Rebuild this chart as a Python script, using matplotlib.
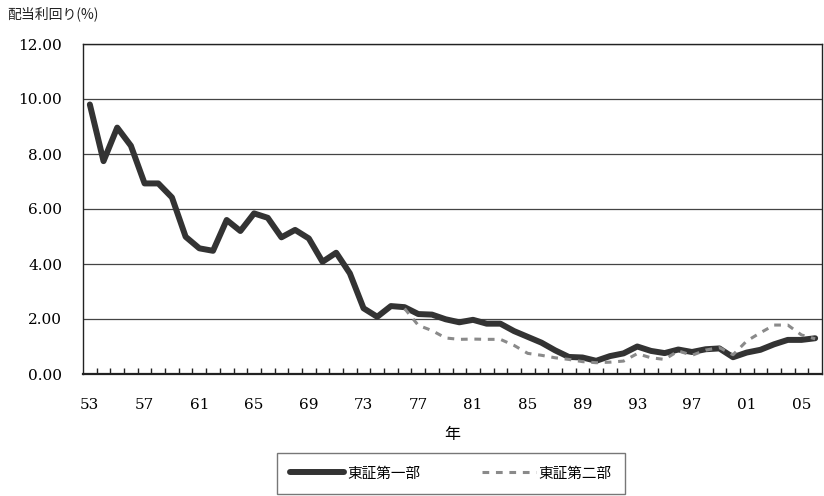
import numpy as np
import matplotlib
matplotlib.use("Agg")
import matplotlib.pyplot as plt
from matplotlib.ticker import FixedLocator, NullFormatter

# Dividend yield (%) by year, 1953-2006
years = list(range(1953, 2007))
tse1 = [9.80, 7.74, 8.96, 8.30, 6.93, 6.93, 6.42, 4.99, 4.57, 4.48,
        5.60, 5.20, 5.84, 5.68, 4.97, 5.24, 4.93, 4.08, 4.41, 3.66,
        2.39, 2.08, 2.47, 2.43, 2.18, 2.16, 1.99, 1.88, 1.97, 1.83,
        1.83, 1.56, 1.35, 1.14, 0.86, 0.62, 0.60, 0.48, 0.65, 0.75,
        1.00, 0.84, 0.76, 0.89, 0.80, 0.90, 0.93, 0.61, 0.78, 0.88,
        1.08, 1.24, 1.24, 1.30]
tse2_years = list(range(1976, 2007))
tse2 = [2.38, 1.77, 1.58, 1.31, 1.26, 1.27, 1.26, 1.26, 1.04, 0.75,
        0.68, 0.59, 0.53, 0.45, 0.41, 0.43, 0.47, 0.74, 0.59, 0.53,
        0.84, 0.68, 0.87, 0.96, 0.70, 1.20, 1.50, 1.78, 1.78, 1.42,
        1.28]
tick_years = list(range(1953, 2007, 4))
tick_labels = ['53', '57', '61', '65', '69', '73', '77', '81', '85', '89',
               '93', '97', '01', '05']
y_ticks = [0, 2, 4, 6, 8, 10, 12]

series_names = ['東証第一部', '東証第二部']

NUM_FONT = 'DejaVu Serif'
JP_FONT = ['Noto Sans CJK JP', 'DejaVu Sans']

W, H = 824, 496
fig = plt.figure(figsize=(W / 100, H / 100), dpi=100)
ax = fig.add_axes([83 / W, 1 - 374 / H, (822 - 83) / W, (374 - 44) / H])

x1 = np.array(years) - years[0]
x2 = np.array(tse2_years) - years[0]

ax.plot(x1, tse1, color='#333333', lw=4.3, solid_joinstyle='round',
        solid_capstyle='round', zorder=3, label=series_names[0])
ax.plot(x2, tse2, color='#8a8a8a', lw=2.2, linestyle=(0, (2.2, 2.2)),
        zorder=4, label=series_names[1])

ax.set_xlim(-0.5, len(years) - 0.5)
ax.set_ylim(0, 12)

# category axis: labels every 4 years, small tick marks between categories
ax.set_xticks([y - years[0] for y in tick_years])
ax.set_xticklabels(tick_labels, fontfamily=NUM_FONT, fontsize=11)
ax.xaxis.set_minor_locator(FixedLocator(np.arange(0.5, len(years) - 1, 1.0)))
ax.xaxis.set_minor_formatter(NullFormatter())
ax.tick_params(axis='x', which='major', length=0, pad=17)
ax.tick_params(axis='x', which='minor', direction='in', length=4,
               width=1, color='#222222')

ax.set_yticks(y_ticks)
ax.set_yticklabels([f'{v:.2f}' for v in y_ticks], fontfamily=NUM_FONT,
                   fontsize=11)
ax.tick_params(axis='y', length=0, pad=15)

ax.grid(axis='y', color='#444444', lw=0.9)
ax.set_axisbelow(True)
for side in ['left', 'right', 'top', 'bottom']:
    ax.spines[side].set_color('#222222')
    ax.spines[side].set_linewidth(1.0)
ax.spines['bottom'].set_linewidth(1.6)

ax.set_xlabel('年', fontfamily=JP_FONT, fontsize=11.5, labelpad=10)
fig.text(7 / W, 1 - 14 / H, '配当利回り(%)', fontfamily=JP_FONT,
         fontsize=10, va='center', ha='left', color='#222222')

leg = fig.legend(loc='center', bbox_to_anchor=(451 / W, 1 - 473.5 / H),
                 ncol=2, frameon=True, fancybox=False, borderpad=0.9,
                 handlelength=3.7, handletextpad=0.2, columnspacing=4.2,
                 prop={'family': JP_FONT, 'size': 10.5})
leg.get_frame().set_edgecolor('#555555')
leg.get_frame().set_linewidth(1.0)

fig.savefig('out.png', dpi=100)
